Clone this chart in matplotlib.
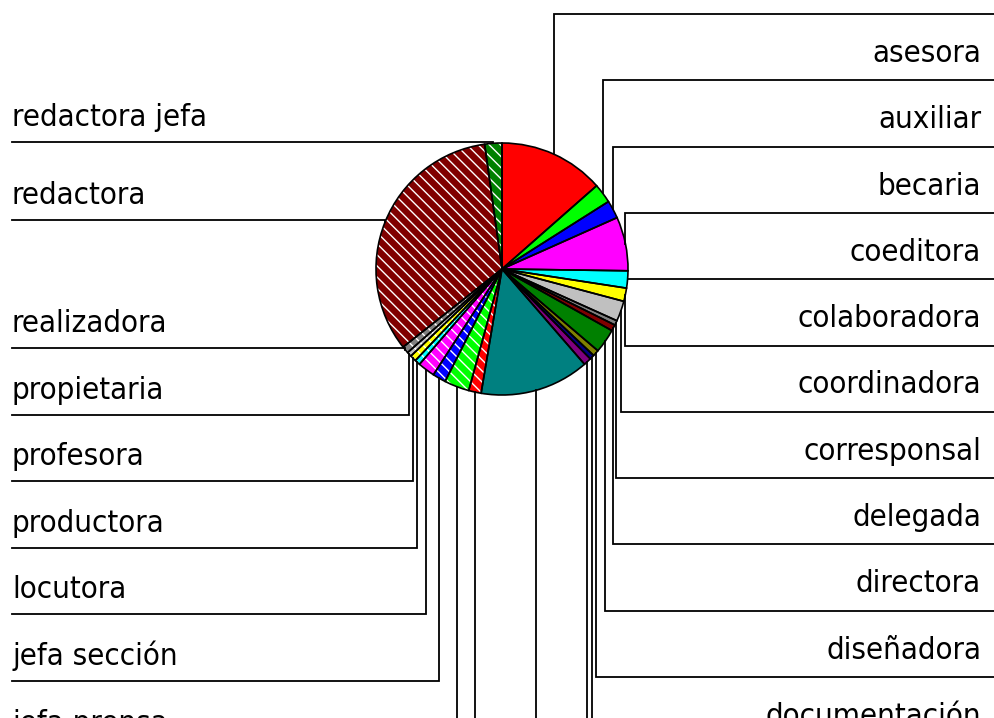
import numpy as np
import matplotlib.pyplot as plt
from matplotlib import font_manager

# slices in clockwise order from 12 o'clock (percent of total)
categories = ['asesora', 'auxiliar', 'becaria', 'coeditora', 'colaboradora',
              'coordinadora', 'corresponsal', 'delegada', 'directora',
              'diseñadora', 'documentación', '', '', '',
              '', 'jefa prensa', 'jefa sección', 'locutora', 'productora',
              'profesora', 'propietaria', 'realizadora', 'redactora',
              'redactora jefa']
values = [13.5, 2.5, 2.3, 6.9, 2.2, 1.7, 2.6, 0.6, 0.8, 3.1, 0.8, 0.6,
          1.0, 14.0, 1.6, 3.2, 1.7, 2.2, 0.7, 0.8, 0.6, 0.9, 33.4, 2.2]
palette = ['#FF0000', '#00FF00', '#0000FF', '#FF00FF', '#00FFFF', '#FFFF00',
           '#C0C0C0', '#808080', '#800000', '#008000', '#808000', '#000080',
           '#800080', '#008080']
colors = palette + palette[:10]
striped = [False] * 14 + [True] * 10

W, H = 995, 718
cx, cy, r = 502, H - 269, 126

# narrow Tahoma-like face if present, otherwise Liberation Sans
cond = [f.fname for f in font_manager.fontManager.ttflist
        if f.name == 'DejaVu Sans' and 'Condensed' in f.fname
        and 'Bold' not in f.fname and 'Oblique' not in f.fname]
if cond:
    font = dict(fontproperties=font_manager.FontProperties(fname=cond[0],
                                                           size=22.4))
else:
    font = dict(family='Liberation Sans', fontsize=23)

plt.rcParams['hatch.linewidth'] = 1.0
fig = plt.figure(figsize=(W / 100, H / 100), dpi=100)
ax = fig.add_axes([0, 0, 1, 1])

wedges, _ = ax.pie(values, colors=colors, center=(cx, cy), radius=r,
                   startangle=90, counterclock=False,
                   wedgeprops=dict(edgecolor='white', linewidth=0))
for w, s in zip(wedges, striped):
    if s:
        w.set_hatch('\\\\\\')
ax.pie(values, colors=['none'] * len(values), center=(cx, cy), radius=r,
       startangle=90, counterclock=False,
       wedgeprops=dict(edgecolor='black', linewidth=1.2))

# label slots (pixel rows from the top)
right_lines = [14 + 66.3 * i for i in range(14)]
left_lines = [142, 220] + [348 + 66.6 * k for k in range(8)]
left_order = list(range(23, 13, -1))  # redactora jefa ... first striped slice

lw = 1.3
for i in range(14):
    w = wedges[i]
    ang = np.deg2rad((w.theta1 + w.theta2) / 2)
    px, py = cx + r * np.cos(ang), cy + r * np.sin(ang)
    ly = H - right_lines[i]
    ax.plot([px, px, W + 5], [py, ly, ly], color='black', lw=lw,
            solid_joinstyle='miter')
    ax.text(981, ly - 48, categories[i], ha='right', va='baseline', **font)

for slot, i in enumerate(left_order):
    w = wedges[i]
    ang = np.deg2rad((w.theta1 + w.theta2) / 2)
    px, py = cx + r * np.cos(ang), cy + r * np.sin(ang)
    ly = H - left_lines[slot]
    ax.plot([px, px, 12], [py, ly, ly], color='black', lw=lw,
            solid_joinstyle='miter')
    ax.text(12, ly + 16, categories[i], ha='left', va='baseline', **font)

ax.set_xlim(0, W)
ax.set_ylim(0, H)
ax.set_aspect('equal')
ax.axis('off')
fig.savefig('out.png', dpi=100, facecolor='white')
